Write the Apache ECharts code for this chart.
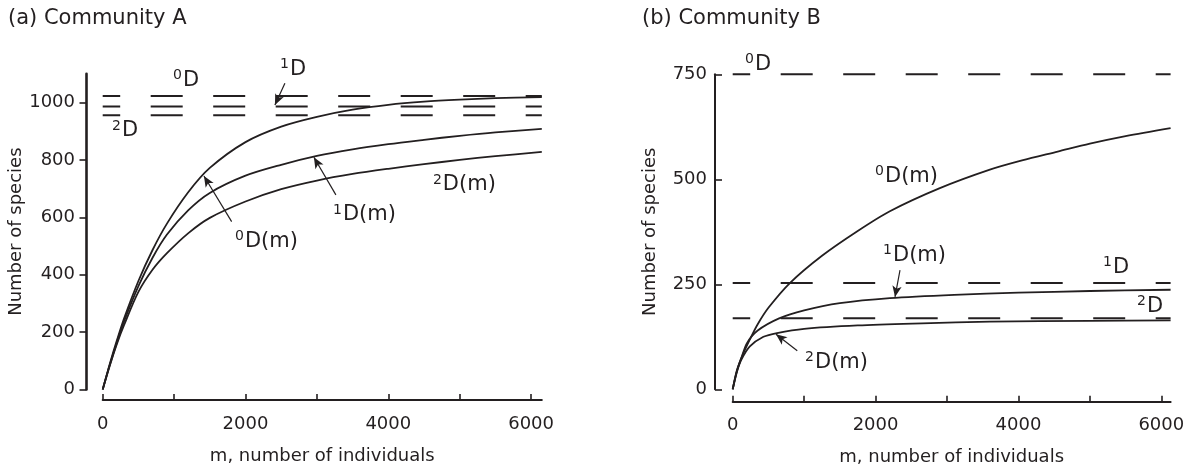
<!DOCTYPE html>
<html><head><meta charset="utf-8">
<script src="https://cdn.jsdelivr.net/npm/echarts@6/dist/echarts.min.js"></script>
<style>html,body{margin:0;padding:0;background:#fff}#c{width:1190px;height:472px}</style>
</head><body><div id="c"></div>
<script>
// ---------- Data ----------
// Community A
const mA = [0,100,200,300,500,700,900,1200,1500,2000,2500,3000,3500,4000,4500,5000,5500,6150];
const a0Dm = [0,90,172,248,378,487,578,688,772,862,916,950,975,992,1003,1010,1015,1019];
const a1Dm = [0,86,165,238,360,460,540,625,685,745,783,814,837,855,870,884,896,908];
const a2Dm = [0,84,160,225,340,418,475,545,598,655,698,728,751,769,785,800,813,828];
const aAsym = { d0: 1023, d1: 986, d2: 956 };
// Community B
const mB0 = [0,60,150,250,350,500,800,1250,1750,2200,2900,3600,4050,4550,5000,5500,6130];
const b0Dm = [0,46,86,122,155,194,253,318,377,424,479,523,545,566,585,603,622];
const mB1 = [0,60,120,200,350,650,1000,1500,2200,3100,4000,5000,6130];
const b1Dm = [0,44,74,110,140,169,188,205,217,225,230,234,237];
const mB2 = [0,60,120,240,430,620,1000,1750,2650,3600,5000,6130];
const b2Dm = [0,42,70,102,125,134,144,152,157,161,163,164];
const bAsym = { d0: 750, d1: 253, d2: 169 };
// Axis ticks
const xTicks = [0,1000,2000,3000,4000,5000,6000];
const xLabels = [0,2000,4000,6000];
const yTicksA = [0,200,400,600,800,1000];
const yTicksB = [0,250,500,750];
const xMaxA = 6150, xMaxB = 6130;

// Annotations (data coordinates)
const labelsA = [
  {sup:'0', main:'D', at:[1124,1078]},
  {sup:'1', main:'D', at:[2622,1115]},
  {sup:'2', main:'D', at:[270,901]},
  {sup:'0', main:'D(m)', at:[1992,517]},
  {sup:'1', main:'D(m)', at:[3364,608]},
  {sup:'2', main:'D(m)', at:[4764,713]}
];
const labelsB = [
  {sup:'0', main:'D', at:[312,773]},
  {sup:'1', main:'D', at:[5324,290]},
  {sup:'2', main:'D', at:[5800,197]},
  {sup:'1', main:'D(m)', at:[2244,318]},
  {sup:'0', main:'D(m)', at:[2132,506]},
  {sup:'2', main:'D(m)', at:[1152,63]}
];
const arrowsA = [
  [[2552,1067],[2412,991]],
  [[1806,585],[1418,744]],
  [[3266,678],[2958,809]]
];
const arrowsB = [
  [[2342,284],[2272,220]],
  [[904,92],[606,131]]
];

// ---------- Styles ----------
const INK = '#231f20';
const FONT = '"DejaVu Sans", sans-serif';
const zip = (xs, ys) => xs.map((x, i) => [x, ys[i]]);

function curve(name, xi, yi, xs, ys, extra) {
  return Object.assign({
    name, type:'line', xAxisIndex:xi, yAxisIndex:yi, data: zip(xs, ys),
    showSymbol:false, symbol:'none', smooth:0.3,
    lineStyle:{color:INK, width:1.8}, silent:true, animation:false
  }, extra || {});
}
function dashed(name, xi, yi, v, xmax) {
  return {
    name, type:'line', xAxisIndex:xi, yAxisIndex:yi, data:[[0,v],[xmax,v]],
    showSymbol:false, symbol:'none', clip:false,
    lineStyle:{color:INK, width:2, type:[32,30.5], dashOffset:14.5},
    silent:true, animation:false
  };
}
function arrowMark(list) {
  return {
    silent:true, animation:false, symbol:['none','arrow'], symbolSize:[7,11],
    label:{show:false}, lineStyle:{color:INK, width:1.2, type:'solid'},
    emphasis:{disabled:true},
    data: list.map(a => [{coord:a[0]},{coord:a[1]}])
  };
}
const txt = {color:INK, fontFamily:FONT, fontSize:18};
const plain = v => String(v);

function xAxisCfg(gi, max, offset) {
  return {
    gridIndex:gi, type:'value', min:0, max:max, interval:1000, offset:offset,
    axisLine:{show:true, onZero:false, lineStyle:{color:INK, width:2}},
    axisTick:{show:true, inside:true, length:6, lineStyle:{color:INK, width:1.6}, customValues:xTicks},
    axisLabel:{show:true, margin:15, customValues:xLabels, formatter:plain, ...txt},
    splitLine:{show:false},
    name:'m, number of individuals', nameLocation:'middle', nameGap:47,
    nameTextStyle:{...txt}
  };
}
function yAxisCfg(gi, max, interval, offset, ticks, inside, lw, margin, gap) {
  return {
    gridIndex:gi, type:'value', min:0, max:max, interval:interval, offset:offset,
    axisLine:{show:true, onZero:false, lineStyle:{color:INK, width:lw}},
    axisTick:{show:true, inside:inside, length:7, lineStyle:{color:INK, width:1.6}, customValues:ticks},
    axisLabel:{show:true, margin:margin, customValues:ticks, formatter:plain, ...txt},
    splitLine:{show:false},
    name:'Number of species', nameLocation:'middle', nameGap:gap,
    nameTextStyle:{...txt}
  };
}

const chart = echarts.init(document.getElementById('c'), null, {renderer:'canvas'});
const option = {
  animation:false,
  backgroundColor:'#fff',
  title:[
    {text:'(a) Community A', left:8, top:8, padding:0, textStyle:{color:INK, fontFamily:FONT, fontSize:21, fontWeight:'normal'}},
    {text:'(b) Community B', left:642, top:8, padding:0, textStyle:{color:INK, fontFamily:FONT, fontSize:21, fontWeight:'normal'}}
  ],
  grid:[
    {left:102.7, top:73.8, width:439.1, height:315.7, containLabel:false},
    {left:732.7, top:74.3, width:437.9, height:315.0, containLabel:false}
  ],
  xAxis:[ xAxisCfg(0, xMaxA, 10.5), xAxisCfg(1, xMaxB, 12.4) ],
  yAxis:[
    yAxisCfg(0, 1100, 100, 16.2, yTicksA, false, 2.6, 11.5, 55),
    yAxisCfg(1, 750, 250, 17.7, yTicksB, true, 2, 8, 56)
  ],
  series:[
    dashed('A 0D', 0, 0, aAsym.d0, xMaxA),
    dashed('A 1D', 0, 0, aAsym.d1, xMaxA),
    dashed('A 2D', 0, 0, aAsym.d2, xMaxA),
    curve('A 0D(m)', 0, 0, mA, a0Dm, {markLine: arrowMark(arrowsA)}),
    curve('A 1D(m)', 0, 0, mA, a1Dm),
    curve('A 2D(m)', 0, 0, mA, a2Dm),
    dashed('B 0D', 1, 1, bAsym.d0, xMaxB),
    dashed('B 1D', 1, 1, bAsym.d1, xMaxB),
    dashed('B 2D', 1, 1, bAsym.d2, xMaxB),
    curve('B 0D(m)', 1, 1, mB0, b0Dm, {markLine: arrowMark(arrowsB)}),
    curve('B 1D(m)', 1, 1, mB1, b1Dm),
    curve('B 2D(m)', 1, 1, mB2, b2Dm)
  ]
};
chart.setOption(option);

function labelGraphics(list, gi) {
  const out = [];
  list.forEach(l => {
    const p = chart.convertToPixel({gridIndex:gi}, l.at);
    out.push({type:'text', x:p[0], y:p[1], silent:true,
      style:{text:l.main, font:'21px ' + FONT, fill:INK, align:'left', verticalAlign:'middle', textAlign:'left', textVerticalAlign:'middle'}});
    out.push({type:'text', x:p[0]-1, y:p[1]-5, silent:true,
      style:{text:l.sup, font:'14px ' + FONT, fill:INK, align:'right', verticalAlign:'middle', textAlign:'right', textVerticalAlign:'middle'}});
  });
  return out;
}
chart.setOption({graphic: labelGraphics(labelsA, 0).concat(labelGraphics(labelsB, 1))});
</script></body></html>
